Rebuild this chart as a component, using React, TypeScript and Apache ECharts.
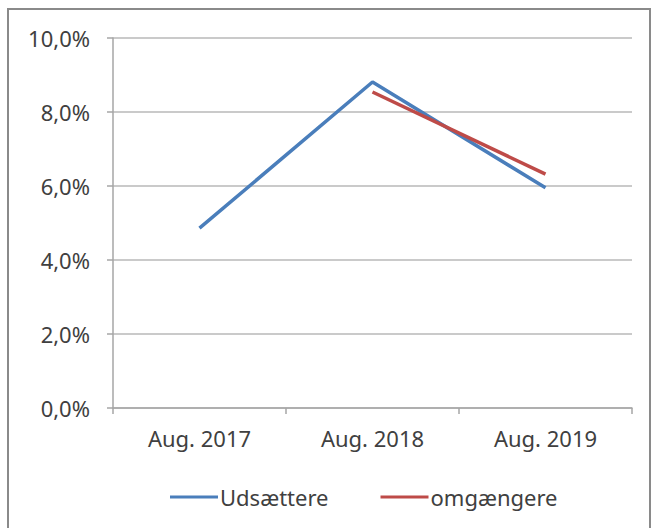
import React, { useEffect, useRef } from "react";
import * as echarts from "echarts";

const categories = ["Aug. 2017", "Aug. 2018", "Aug. 2019"];
const udsaettere = [4.86, 8.81, 5.95];
const omgaengere: (number | null)[] = [null, 8.54, 6.32];
const yTicks = { min: 0, max: 10, interval: 2 };

export default function App() {
  const ref = useRef<HTMLDivElement>(null);
  useEffect(() => {
    if (!ref.current) return;
    const chart = echarts.init(ref.current, null, { renderer: "svg" });
    const font = "'Noto Sans', sans-serif";
    const textColor = "#404040";
    chart.setOption({
      animation: false,
      backgroundColor: "#ffffff",
      textStyle: { fontFamily: font },
      graphic: [
        {
          type: "rect",
          shape: { x: 8, y: 9, width: 642, height: 540 },
          style: { fill: "none", stroke: "#8a8a8a", lineWidth: 2 },
          silent: true,
        },
      ],
      grid: { left: 113, top: 38, width: 519, height: 370, containLabel: false },
      xAxis: {
        type: "category",
        data: categories,
        boundaryGap: true,
        axisLine: { show: true, lineStyle: { color: "#a6a6a6", width: 1.5 } },
        axisTick: { show: true, alignWithLabel: false, length: 6, lineStyle: { color: "#a6a6a6", width: 1.5 } },
        axisLabel: { color: textColor, fontSize: 22, fontFamily: font, margin: 19 },
        splitLine: { show: false },
      },
      yAxis: {
        type: "value",
        min: yTicks.min,
        max: yTicks.max,
        interval: yTicks.interval,
        axisLine: { show: true, lineStyle: { color: "#a6a6a6", width: 1.5 } },
        axisTick: { show: true, length: 6, lineStyle: { color: "#a6a6a6", width: 1.5 } },
        axisLabel: {
          color: textColor,
          fontSize: 22,
          fontFamily: font,
          margin: 23,
          formatter: (v: number) => v.toFixed(1).replace(".", ",") + "%",
        },
        splitLine: { show: true, lineStyle: { color: "#b8b8b8", width: 1.5 } },
      },
      legend: {
        left: 165,
        top: 481,
        icon: "rect",
        itemWidth: 48,
        itemHeight: 3,
        itemGap: 52,
        textStyle: { color: textColor, fontSize: 22, fontFamily: font, padding: [0, 0, 0, -3] },
        data: ["Udsættere", "omgængere"],
      },
      series: [
        {
          name: "Udsættere",
          type: "line",
          data: udsaettere,
          symbol: "none",
          lineStyle: { color: "#4a7ebb", width: 3.5 },
          itemStyle: { color: "#4a7ebb" },
        },
        {
          name: "omgængere",
          type: "line",
          data: omgaengere,
          symbol: "none",
          lineStyle: { color: "#be4b48", width: 3.5 },
          itemStyle: { color: "#be4b48" },
        },
      ],
    });
    return () => chart.dispose();
  }, []);
  return (
    <div
      ref={ref}
      style={{ position: "absolute", left: 0, top: 0, width: 655, height: 528 }}
    />
  );
}
